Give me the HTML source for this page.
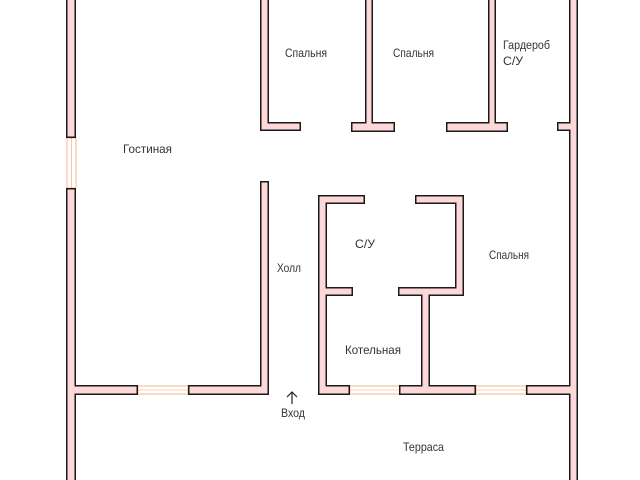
<!DOCTYPE html>
<html><head><meta charset="utf-8"><style>
html,body{margin:0;padding:0;background:#fff;width:640px;height:480px;overflow:hidden}
svg{display:block}
text{font-family:"Liberation Sans",sans-serif;font-size:12px;fill:#333}
</style></head><body>
<svg width="640" height="480" viewBox="0 0 640 480">
<g fill="#fff" stroke="#f4b48a" stroke-width="1">
 <rect x="67" y="138" width="9" height="50"/>
 <rect x="138" y="386" width="50" height="8"/>
 <rect x="350" y="386" width="50" height="8"/>
 <rect x="476" y="386" width="50" height="8"/>
</g>
<g stroke="#f0a070" stroke-width="0.6">
 <line x1="71.5" y1="138" x2="71.5" y2="188"/>
 <line x1="138" y1="390" x2="188" y2="390"/>
 <line x1="350" y1="390" x2="400" y2="390"/>
 <line x1="476" y1="390" x2="526" y2="390"/>
</g>
<g fill="#1a1a1a">
 <rect x="66" y="-2" width="10" height="140"/>
 <rect x="66" y="188" width="10" height="294"/>
 <rect x="66" y="385" width="72" height="10"/>
 <rect x="188" y="385" width="81" height="10"/>
 <rect x="260" y="-2" width="9" height="133"/>
 <rect x="260" y="122" width="41" height="9"/>
 <rect x="260" y="181" width="9" height="214"/>
 <rect x="365" y="-2" width="8" height="133"/>
 <rect x="351" y="122" width="44" height="10"/>
 <rect x="488" y="-2" width="8" height="133"/>
 <rect x="446" y="122" width="62" height="10"/>
 <rect x="569" y="-2" width="9" height="484"/>
 <rect x="557" y="122" width="20" height="9"/>
 <rect x="318" y="195" width="9" height="200"/>
 <rect x="318" y="195" width="47" height="9"/>
 <rect x="318" y="287" width="35" height="9"/>
 <rect x="415" y="195" width="49" height="9"/>
 <rect x="455" y="195" width="9" height="101"/>
 <rect x="398" y="287" width="66" height="9"/>
 <rect x="421" y="287" width="9" height="108"/>
 <rect x="318" y="385" width="32" height="10"/>
 <rect x="399" y="385" width="77" height="10"/>
 <rect x="526" y="385" width="52" height="10"/>
</g>
<g fill="#fcd8d8">
 <rect x="67.5" y="-2" width="7" height="138.5"/>
 <rect x="67.5" y="189.5" width="7" height="292"/>
 <rect x="67.5" y="386.5" width="69" height="7"/>
 <rect x="189.5" y="386.5" width="78" height="7"/>
 <rect x="261.5" y="-2" width="6" height="131.5"/>
 <rect x="261.5" y="123.5" width="38" height="6"/>
 <rect x="261.5" y="182.5" width="6" height="211"/>
 <rect x="366.5" y="-2" width="5" height="131.5"/>
 <rect x="352.5" y="123.5" width="41" height="7"/>
 <rect x="489.5" y="-2" width="5" height="131.5"/>
 <rect x="447.5" y="123.5" width="59" height="7"/>
 <rect x="570.5" y="-2" width="6" height="484"/>
 <rect x="558.5" y="123.5" width="17" height="6"/>
 <rect x="319.5" y="196.5" width="6" height="197"/>
 <rect x="319.5" y="196.5" width="44" height="6"/>
 <rect x="319.5" y="288.5" width="32" height="6"/>
 <rect x="416.5" y="196.5" width="46" height="6"/>
 <rect x="456.5" y="196.5" width="6" height="98"/>
 <rect x="399.5" y="288.5" width="63" height="6"/>
 <rect x="422.5" y="288.5" width="6" height="105"/>
 <rect x="319.5" y="386.5" width="29" height="7"/>
 <rect x="400.5" y="386.5" width="74" height="7"/>
 <rect x="527.5" y="386.5" width="49" height="7"/>
</g>
<g stroke="#222" stroke-width="1.2" fill="none">
 <line x1="292" y1="392" x2="292" y2="404"/>
 <polyline points="287,397 292,392 297,397"/>
</g>
<text x="285" y="57" textLength="42" lengthAdjust="spacingAndGlyphs">Спальня</text>
<text x="393" y="57" textLength="41" lengthAdjust="spacingAndGlyphs">Спальня</text>
<text x="503" y="49" textLength="47" lengthAdjust="spacingAndGlyphs">Гардероб</text>
<text x="503" y="65" textLength="20" lengthAdjust="spacingAndGlyphs">С/У</text>
<text x="123" y="153" textLength="49" lengthAdjust="spacingAndGlyphs">Гостиная</text>
<text x="277" y="272" textLength="24" lengthAdjust="spacingAndGlyphs">Холл</text>
<text x="355" y="248" textLength="20" lengthAdjust="spacingAndGlyphs">С/У</text>
<text x="489" y="259" textLength="40" lengthAdjust="spacingAndGlyphs">Спальня</text>
<text x="345" y="354" textLength="56" lengthAdjust="spacingAndGlyphs">Котельная</text>
<text x="281" y="417" textLength="24" lengthAdjust="spacingAndGlyphs">Вход</text>
<text x="403" y="451" textLength="41" lengthAdjust="spacingAndGlyphs">Терраса</text>
</svg>
</body></html>
